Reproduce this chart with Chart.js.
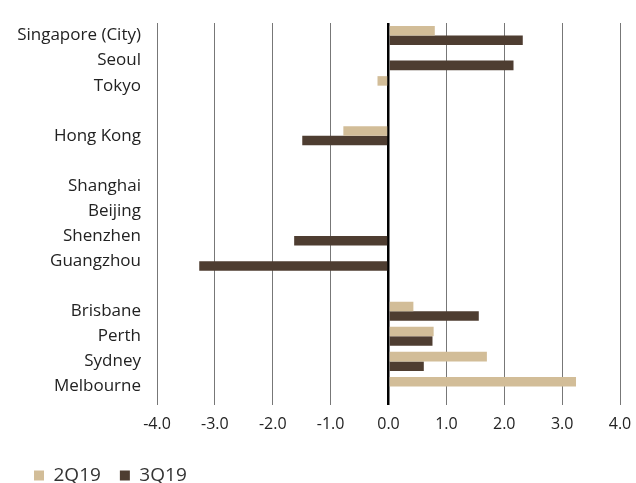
<!DOCTYPE html>
<html>
<head>
<meta charset="utf-8">
<script src="https://cdn.jsdelivr.net/npm/chart.js@4/dist/chart.umd.min.js"></script>
<style>
html,body{margin:0;padding:0;background:#fff;}
#wrap{width:636px;height:483px;position:relative;}
</style>
</head>
<body>
<div id="wrap"><canvas id="c"></canvas></div>
<script>
const categories = ["Singapore (City)","Seoul","Tokyo","","Hong Kong","","Shanghai","Beijing","Shenzhen","Guangzhou","","Brisbane","Perth","Sydney","Melbourne"];
const series2Q19 = [0.80, 0, -0.19, null, -0.78, null, 0, 0, 0, 0, null, 0.43, 0.78, 1.70, 3.24];
const series3Q19 = [2.32, 2.16, 0, null, -1.49, null, 0, 0, -1.63, -3.27, null, 1.56, 0.76, 0.61, 0];
const xTicks = [-4,-3,-2,-1,0,1,2,3,4];

const FONT = "'Open Sans', 'Noto Sans', sans-serif";

const legendFit = {
  id:'legendFit',
  beforeInit(chart){
    const lg = chart.legend;
    const orig = lg.fit;
    lg.fit = function(){ orig.call(this); this.height = 36; };
  }
};

new Chart(document.getElementById('c'), {
  type: 'bar',
  data: {
    labels: categories,
    datasets: [
      {label:'2Q19', data: series2Q19, backgroundColor:'#D2BD98', borderWidth:0, categoryPercentage:0.76, barPercentage:1.0},
      {label:'3Q19', data: series3Q19, backgroundColor:'#4E3D31', borderWidth:0, categoryPercentage:0.76, barPercentage:1.0}
    ]
  },
  plugins:[legendFit],
  options: {
    indexAxis:'y',
    responsive:true,
    maintainAspectRatio:false,
    animation:false,
    layout:{padding:{top:23,right:0,left:15,bottom:0}},
    plugins:{
      tooltip:{enabled:false},
      legend:{
        position:'bottom',
        align:'start',
        labels:{
          font:{family:FONT,size:19},
          color:'#333',
          boxWidth:10,
          boxHeight:10,
          usePointStyle:true,
          pointStyle:'rect',
          padding:19
        }
      }
    },
    scales:{
      x:{
        min:-4,max:4,
        afterBuildTicks(scale){ scale.ticks = xTicks.map(v=>({value:v})); },
        ticks:{
          font:{family:FONT,size:16},
          color:'#222',
          padding:10,
          callback:(v)=>Number(v).toFixed(1)
        },
        grid:{
          color:(ctx)=> ctx.tick && ctx.tick.value===0 ? '#000' : '#777',
          lineWidth:(ctx)=> ctx.tick && ctx.tick.value===0 ? 2.5 : 1,
          tickLength:6,
          drawTicks:true
        },
        border:{display:false},
        afterFit(scale){ scale.height = 48; scale.paddingRight = 16; scale.paddingLeft = 0; }
      },
      y:{
        grid:{display:false},
        border:{display:false},
        afterFit(scale){ scale.width = 142; },
        ticks:{
          font:{family:FONT,size:17},
          color:'#222',
          padding:8,
          autoSkip:false
        }
      }
    }
  }
});
</script>
</body>
</html>
